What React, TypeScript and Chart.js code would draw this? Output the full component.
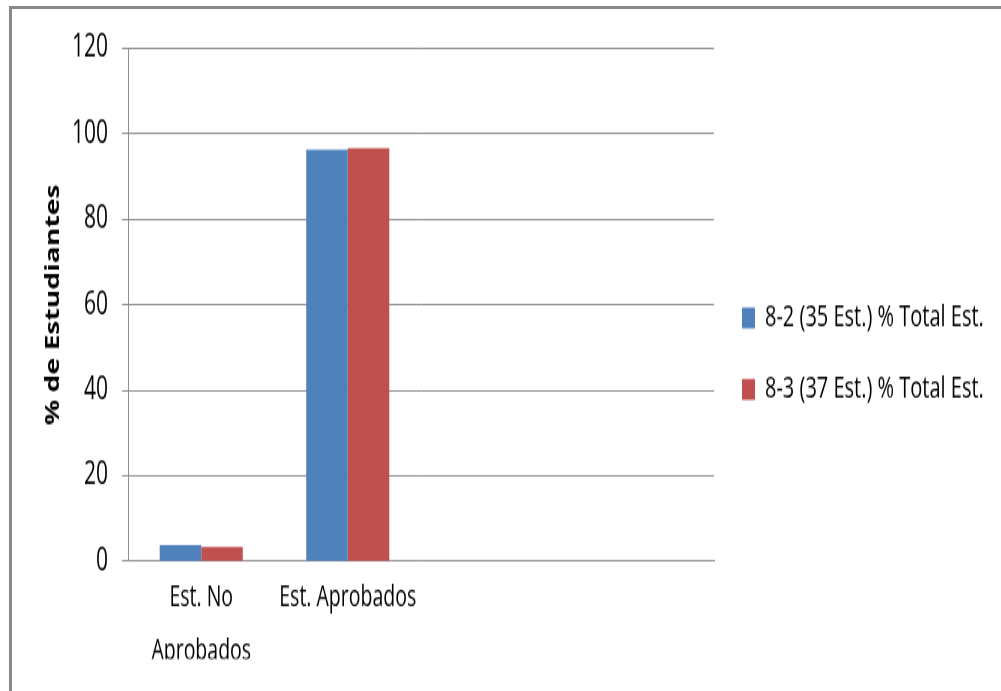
import React, { useEffect, useRef } from "react";
import { Chart, registerables } from "chart.js";

Chart.register(...registerables);

// ---- data ----
const categories: (string | string[])[] = [["Est. No", "Aprobados"], "Est. Aprobados", "", ""];
const seriesNames = ["8-2 (35 Est.) % Total Est.", "8-3 (37 Est.) % Total Est."];
const values82: (number | null)[] = [3.8, 96.3, null, null];
const values83: (number | null)[] = [3.4, 96.6, null, null];
const yTicks = [0, 20, 40, 60, 80, 100, 120];
const yTitle = "% de Estudiantes";

// ---- styling ----
const W = 1001;
const H = 464;
const SY = 691 / H;
const FONT = "'Open Sans', sans-serif";
const GRID = "#8e8e8e";
const LEGEND_FONT = 20;
const LEGEND_PAD = 28;
const LEGEND_BOX = 13;
const PLOT_RIGHT = 714;
const LEFT_EXT = 200; // extra room so the right legend may be wide

export default function App() {
  const ref = useRef<HTMLCanvasElement | null>(null);

  useEffect(() => {
    if (!ref.current) return;
    const mctx = document.createElement("canvas").getContext("2d")!;
    mctx.font = `${LEGEND_FONT}px ${FONT}`;
    const tw = Math.max(...seriesNames.map((n) => mctx.measureText(n).width));
    const legendW = LEGEND_PAD + LEGEND_BOX + LEGEND_FONT / 2 + tw + 10;
    const padRight = W - PLOT_RIGHT - legendW;

    const chart = new Chart(ref.current, {
      type: "bar",
      data: {
        labels: categories as any,
        datasets: [
          {
            label: seriesNames[0],
            data: values82 as any,
            backgroundColor: "#4F81BD",
            borderWidth: 0,
            categoryPercentage: 0.567,
            barPercentage: 1,
          },
          {
            label: seriesNames[1],
            data: values83 as any,
            backgroundColor: "#C0504D",
            borderWidth: 0,
            categoryPercentage: 0.567,
            barPercentage: 1,
          },
        ],
      },
      options: {
        responsive: false,
        animation: false,
        devicePixelRatio: 1,
        layout: { padding: { top: 32.4, bottom: 21.6, left: -LEFT_EXT, right: padRight } },
        plugins: {
          legend: {
            position: "right",
            align: "center",
            labels: {
              boxWidth: LEGEND_BOX,
              boxHeight: 14,
              padding: LEGEND_PAD,
              color: "#000",
              font: { family: FONT, size: LEGEND_FONT },
            },
          },
          tooltip: { enabled: false },
        },
        scales: {
          x: {
            grid: { display: false, drawTicks: false },
            border: { display: true, color: GRID, width: 1 },
            ticks: {
              color: "#000",
              font: { family: FONT, size: 19.5, lineHeight: 1.83 },
              padding: 7,
              maxRotation: 0,
              autoSkip: false,
            },
            afterFit: (s: any) => {
              s.height = 65.5;
            },
          },
          y: {
            min: yTicks[0],
            max: yTicks[yTicks.length - 1],
            ticks: {
              stepSize: yTicks[1] - yTicks[0],
              padding: 14,
              color: "#000",
              font: { family: FONT, size: 21 },
            },
            grid: { color: GRID, lineWidth: 1, tickLength: 6, drawTicks: true },
            border: { display: true, color: GRID, width: 1 },
            title: {
              display: true,
              text: yTitle,
              color: "#000",
              font: { family: FONT, size: 19, weight: "bold" },
              padding: { top: 42.6 + LEFT_EXT, bottom: 0 },
            },
            afterFit: (s: any) => {
              s.width = 128 + LEFT_EXT;
            },
          },
        },
      } as any,
    });
    return () => chart.destroy();
  }, []);

  return (
    <>
      <div
        style={{
          position: "absolute",
          left: 9,
          top: 6,
          width: 1100,
          height: 800,
          borderTop: "3px solid #888",
          borderLeft: "3px solid #888",
          boxSizing: "border-box",
        }}
      />
      <div
        style={{
          position: "absolute",
          left: 0,
          top: 0,
          width: W,
          height: H,
          transform: `scaleY(${SY})`,
          transformOrigin: "0 0",
        }}
      >
        <canvas ref={ref} width={W} height={H} style={{ display: "block" }} />
      </div>
    </>
  );
}
